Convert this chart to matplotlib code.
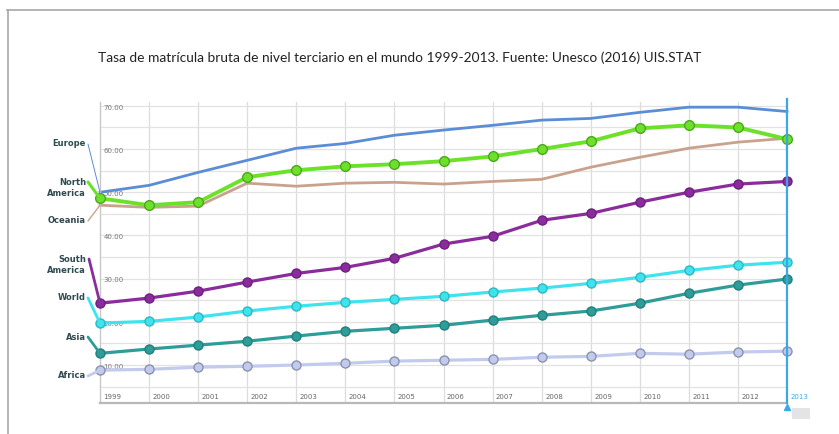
import matplotlib
matplotlib.use("Agg")
import matplotlib.pyplot as plt
import numpy as np

years = list(range(1999, 2014))

europe = [50.0, 51.6, 54.6, 57.4, 60.2, 61.3, 63.2, 64.4, 65.5, 66.7, 67.1, 68.5, 69.7, 69.7, 68.7]
north_america = [48.6, 47.0, 47.7, 53.5, 55.1, 56.0, 56.5, 57.2, 58.3, 60.0, 61.8, 64.8, 65.5, 65.0, 62.3]
oceania = [47.0, 46.5, 46.8, 52.1, 51.4, 52.1, 52.3, 51.9, 52.5, 53.0, 55.8, 58.1, 60.2, 61.6, 62.5]
south_america = [24.3, 25.5, 27.1, 29.2, 31.2, 32.6, 34.7, 38.0, 39.8, 43.5, 45.1, 47.7, 50.0, 51.9, 52.5]
world = [19.7, 20.1, 21.1, 22.5, 23.6, 24.5, 25.2, 25.9, 26.9, 27.8, 28.9, 30.3, 31.9, 33.1, 33.8]
asia = [12.7, 13.7, 14.6, 15.5, 16.7, 17.8, 18.5, 19.2, 20.4, 21.5, 22.5, 24.3, 26.6, 28.5, 29.9]
africa = [8.8, 9.0, 9.5, 9.7, 10.0, 10.4, 10.9, 11.1, 11.3, 11.8, 12.0, 12.7, 12.5, 13.0, 13.2]

ytick_vals = [10, 20, 30, 40, 50, 60, 70]

title = "Tasa de matrícula bruta de nivel terciario en el mundo 1999-2013. Fuente: Unesco (2016) UIS.STAT"

W, H = 839, 434
fig = plt.figure(figsize=(W / 100, H / 100), dpi=100)
fig.patch.set_facecolor("white")

# outer frame (top and left only)
fig.add_artist(plt.Line2D([7 / W, 1], [1 - 10 / H, 1 - 10 / H], color="#a8a8a8", lw=1.2))
fig.add_artist(plt.Line2D([8 / W, 8 / W], [0, 1 - 10 / H], color="#a8a8a8", lw=1.2))

fig.text(98 / W, 1 - 58 / H, title, fontsize=9.9, family="Lato", color="#222222", va="center", ha="left")

ax = fig.add_axes([100 / W, 31 / H, 687 / W, 301 / H])
ax.set_xlim(1999, 2013)
ax.set_ylim(1.2, 70.9)
ax.set_xticks([])
ax.set_yticks([])
for s in ["top", "right"]:
    ax.spines[s].set_visible(False)
ax.spines["left"].set_color("#c8c8c8")
ax.spines["left"].set_linewidth(1.0)
ax.spines["bottom"].set_color("#b8b8b8")
ax.spines["bottom"].set_linewidth(1.6)

# grid
for yr in years[1:-1]:
    ax.axvline(yr, color="#dcdcdc", lw=0.9, zorder=0)
for v in range(5, 71, 5):
    ax.axhline(v, color="#e2e2e2", lw=0.9, zorder=0)

# tick labels inside plot
for yr in years[:-1]:
    ax.text(yr + 0.07, 0.02, str(yr), transform=ax.get_xaxis_transform(),
            fontsize=5, color="#666666", va="center", ha="left")
ax.text(2013 + 0.07, 0.02, "2013", transform=ax.get_xaxis_transform(),
        fontsize=5, color="#3aa8e8", va="center", ha="left", clip_on=False)
for v in ytick_vals:
    ax.text(1999 + 0.07, v - 0.4, "%.2f" % v, fontsize=5, color="#777777",
            va="center", ha="left", zorder=1)

series = [
    ("Europe", europe, "#5b8dd6", None, None, 2.0, (86, 144), (88, 144), 0.7),
    ("North\nAmerica", north_america, "#6be12a", "#4ea61e", 7, 2.8, (86, 188), (88, 182), 2.2),
    ("Oceania", oceania, "#c9a28e", None, None, 2.0, (86, 221), (88, 221), 1.0),
    ("South\nAmerica", south_america, "#8a2c9c", "#6e1f80", 6.5, 2.3, (86, 265), (89, 259), 2.0),
    ("World", world, "#3fe3ee", "#2cb8c4", 6.5, 2.3, (86, 298), (88, 298), 2.0),
    ("Asia", asia, "#2e9c98", "#20807c", 6.5, 2.3, (86, 337), (88, 337), 2.0),
    ("Africa", africa, "#c2cbee", "#8a93ad", 6.5, 2.3, (86, 376), (88, 376), 2.0),
]

for name, vals, col, edge, ms, lw, lab_xy, con_xy, con_lw in series:
    if ms:
        ax.plot(years, vals, color=col, lw=lw, marker="o", markersize=ms,
                markerfacecolor=col, markeredgecolor=edge, markeredgewidth=1.0,
                zorder=3, clip_on=False)
    else:
        ax.plot(years, vals, color=col, lw=lw, zorder=2, clip_on=False)
    fig.text(lab_xy[0] / W, 1 - lab_xy[1] / H, name, fontsize=6, fontweight="bold",
             color="#2f4a50", ha="right", va="center", linespacing=1.3)
    ax.annotate("", xy=(1999, vals[0]), xycoords="data",
                xytext=(con_xy[0], H - con_xy[1]), textcoords="figure pixels",
                arrowprops=dict(arrowstyle="-", color=col, lw=con_lw,
                                shrinkA=0, shrinkB=0),
                annotation_clip=False)

# highlighted 2013 cursor
ax.plot([2013, 2013], [1.2, 71.5], color="#3aa8e8", lw=1.6, zorder=4, clip_on=False)
ax.plot([2013], [0.2], marker="^", color="#3aa8e8", markersize=4, zorder=4, clip_on=False)
fig.add_artist(plt.Rectangle((792 / W, 1 - 419 / H), 18 / W, 11 / H,
                             facecolor="#e4e4e4", edgecolor="none"))

fig.savefig("out.png", dpi=100)
